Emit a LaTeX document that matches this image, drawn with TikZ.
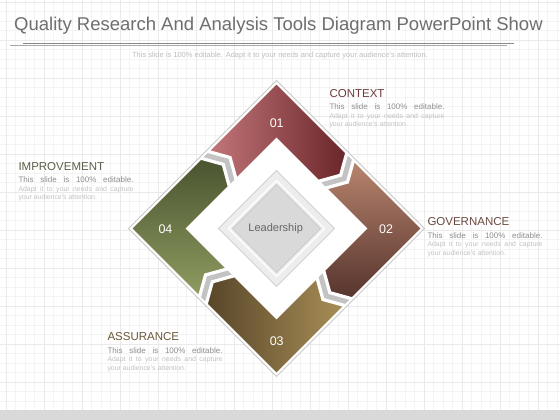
\documentclass[tikz,border=0pt]{standalone}
\usepackage{fontspec}
\setmainfont{Liberation Sans}
\definecolor{gridminor}{HTML}{F4F4F4}
\definecolor{gridmajor}{HTML}{EAEAEA}
\definecolor{titlec}{HTML}{6E6E6E}
\definecolor{rulea}{HTML}{8A8A8A}
\definecolor{ruleb}{HTML}{A8A8A8}
\definecolor{subc}{HTML}{BEBEBE}
\definecolor{bodyc}{HTML}{8E8E8E}
\definecolor{bodyl}{HTML}{C2C2C2}
\definecolor{framec}{HTML}{C8C8C8}
\definecolor{chevc}{HTML}{C3C3C3}
\definecolor{aLight}{HTML}{C27679}
\definecolor{aDark}{HTML}{6A262A}
\definecolor{bLight}{HTML}{B8846E}
\definecolor{bDark}{HTML}{56342D}
\definecolor{cLight}{HTML}{A88E56}
\definecolor{cDark}{HTML}{584629}
\definecolor{dLight}{HTML}{8E9C60}
\definecolor{dDark}{HTML}{4A5430}
\definecolor{ctxc}{HTML}{6E3A3C}
\definecolor{govc}{HTML}{6A4A40}
\definecolor{impc}{HTML}{5A5E48}
\definecolor{assc}{HTML}{6A5838}
\definecolor{barc}{HTML}{D9D9D9}
\definecolor{leadA}{HTML}{EDEDED}
\definecolor{leadAb}{HTML}{D0D0D0}
\definecolor{leadB}{HTML}{D9D9D9}
\definecolor{leadBb}{HTML}{C4C4C4}
\definecolor{leadt}{HTML}{666666}
\tikzset{
  frameA/.style={x={(0.70711pt,0.70711pt)}, y={(-0.70711pt,0.70711pt)}},
  frameB/.style={x={(0.70711pt,-0.70711pt)}, y={(0.70711pt,0.70711pt)}},
  frameC/.style={x={(-0.70711pt,-0.70711pt)}, y={(0.70711pt,-0.70711pt)}},
  frameD/.style={x={(-0.70711pt,0.70711pt)}, y={(-0.70711pt,-0.70711pt)}},
  segline/.style={draw=white, line width=1.2pt},
  chevst/.style={fill=chevc, draw=white, line width=0.9pt},
  numst/.style={text=white, font=\fontsize{12.5}{14}\selectfont, inner sep=0},
  headst/.style={anchor=base west, inner sep=0, font=\fontsize{11.5}{13}\selectfont},
  bodyst/.style={anchor=base west, inner sep=0, text=bodyc, font=\fontsize{8}{9}\selectfont},
  smallst/.style={anchor=base west, inner sep=0, text=bodyl, font=\fontsize{6.9}{8}\selectfont},
}
\newcommand\segpath{(7.5,102.5) -- (102.5,102.5) -- (102.5,4.5) -- (83.05,-6.5) -- (63.6,4.5) -- (63.6,63.6) -- (7.5,63.6) -- (18.5,83.05) -- cycle}
\newcommand\chevpath{(-2,102.5) -- (9,83.05) -- (-2,63.6) -- (5,63.6) -- (16,83.05) -- (5,102.5) -- cycle}
\newcommand\infoblock[5]{%
  \node[headst, text=#5] (#1-head) at (#2,#3) {#4};
  \node[bodyst] (#1-l1) at (#2,{#3+12.5}) {\makebox[115pt][s]{This slide is 100\% editable.}};
  \node[smallst] (#1-l2) at (#2,{#3+21}) {\makebox[115pt][s]{Adapt it to your needs and capture}};
  \node[smallst] (#1-l3) at (#2,{#3+29.5}) {your audience's attention.};
}
\begin{document}
\begin{tikzpicture}[x=1pt,y=-1pt]
\useasboundingbox (0,0) rectangle (560,420);
\fill[white] (0,0) rectangle (560,420);
% grid
\foreach \i in {0,...,58} \draw[gridminor, line width=0.5pt] ({5.9+9.5*\i},0) -- ({5.9+9.5*\i},410);
\foreach \j in {0,...,43} \draw[gridminor, line width=0.5pt] (0,{1.8+9.5*\j}) -- (560,{1.8+9.5*\j});
\foreach \i in {0,...,14} \draw[gridmajor, line width=0.5pt] ({5.9+38*\i},0) -- ({5.9+38*\i},410);
\foreach \j in {0,...,10} \draw[gridmajor, line width=0.5pt] (0,{1.8+38*\j}) -- (560,{1.8+38*\j});
\fill[barc] (0,410) rectangle (560,420);
% title
\node[anchor=base west, inner sep=0, text=titlec, font=\fontsize{18.5}{20}\selectfont] (title) at (14,31) {Quality Research And Analysis Tools Diagram PowerPoint Show};
\draw[rulea, line width=0.8pt] (23,43.6) -- (514,43.6);
\draw[ruleb, line width=0.8pt] (10,45.7) -- (507,45.7);
\node[inner sep=0, text=subc, font=\fontsize{7.5}{9}\selectfont] (sub) at (280,55.5) {This slide is 100\% editable. Adapt it to your needs and capture your audience's attention.};
% ring
\begin{scope}[shift={(276.5,228.5)}]
  \filldraw[fill=white, draw=framec, line width=0.8pt] (0,-148) -- (148,0) -- (0,148) -- (-148,0) -- cycle;
  \begin{scope}[frameA]
    \path[segline, left color=aLight, right color=aDark] \segpath;
    \path[chevst] \chevpath;
  \end{scope}
  \begin{scope}[frameB]
    \path[segline, top color=bLight, bottom color=bDark] \segpath;
    \path[chevst] \chevpath;
  \end{scope}
  \begin{scope}[frameC]
    \path[segline, right color=cLight, left color=cDark] \segpath;
    \path[chevst] \chevpath;
  \end{scope}
  \begin{scope}[frameD]
    \path[segline, bottom color=dLight, top color=dDark] \segpath;
    \path[chevst] \chevpath;
  \end{scope}
  % leadership
  \filldraw[fill=leadA, draw=leadAb, line width=0.8pt] (0,-58) -- (58,0) -- (0,58) -- (-58,0) -- cycle;
  \draw[white, line width=1.2pt] (0,-48) -- (48,0) -- (0,48) -- (-48,0) -- cycle;
  \filldraw[fill=leadB, draw=leadBb, line width=0.6pt] (0,-44) -- (44,0) -- (0,44) -- (-44,0) -- cycle;
\end{scope}
\node[inner sep=0, text=leadt, font=\fontsize{11}{13}\selectfont] (lead) at (275.7,229) {Leadership};
\node[numst] (n1) at (276.7,123.5) {01};
\node[numst] (n2) at (386,229.5) {02};
\node[numst] (n3) at (276.7,341.5) {03};
\node[numst] (n4) at (165.5,229.5) {04};
% text blocks
\infoblock{ctx}{329.3}{97.5}{CONTEXT}{ctxc}
\infoblock{gov}{427.3}{225.7}{GOVERNANCE}{govc}
\infoblock{imp}{18.3}{170}{IMPROVEMENT}{impc}
\infoblock{ass}{107.3}{340.7}{ASSURANCE}{assc}
\end{tikzpicture}
\end{document}
